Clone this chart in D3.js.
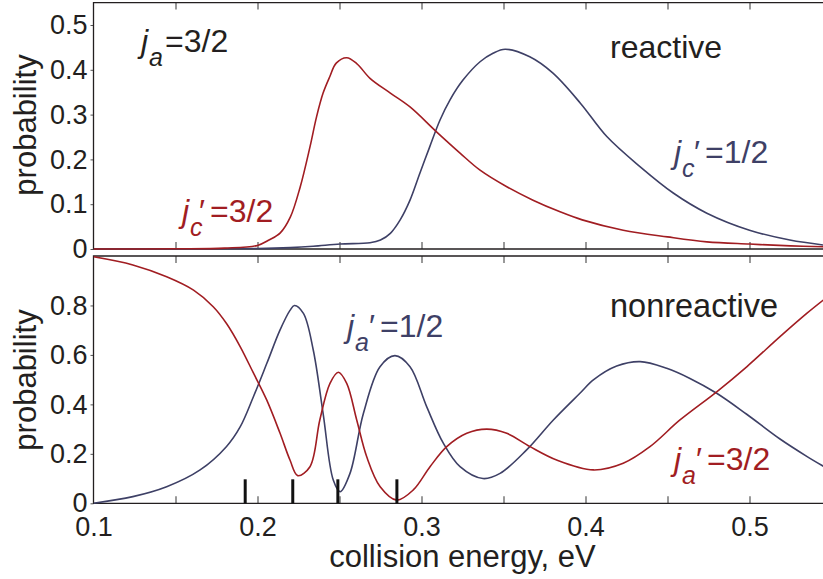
<!DOCTYPE html>
<html><head><meta charset="utf-8">
<script src="https://cdn.jsdelivr.net/npm/d3@7"></script>
<style>
html,body{margin:0;padding:0;background:#fff;}
svg{display:block;font-family:"Liberation Sans",Arial,Helvetica,sans-serif;}
</style></head>
<body>
<svg id="chart" width="823" height="579"></svg>
<script>
// ---------- data ----------
const topRedE = [0.10,0.15,0.18,0.20,0.207,0.2139,0.22,0.226,0.232,0.236,0.240,0.244,0.248,0.2544,0.2605,0.2686,0.281,0.293,0.309,0.3235,0.3357,0.352,0.368,0.3845,0.398,0.423,0.45,0.474,0.50,0.525,0.545];
const topRedV = [0,0.0005,0.002,0.008,0.02,0.036,0.071,0.138,0.228,0.295,0.348,0.384,0.415,0.427,0.414,0.381,0.348,0.317,0.262,0.214,0.176,0.139,0.109,0.083,0.065,0.042,0.027,0.016,0.011,0.007,0.005];

const topBlueE = [0.10,0.20,0.22,0.234,0.2504,0.2686,0.275,0.281,0.287,0.293,0.299,0.305,0.3113,0.3174,0.3253,0.3357,0.3436,0.351,0.366,0.380,0.397,0.413,0.4332,0.4535,0.474,0.50,0.5246,0.545];
const topBlueV = [0,0.001,0.003,0.006,0.011,0.014,0.02,0.035,0.065,0.109,0.169,0.228,0.288,0.333,0.377,0.418,0.437,0.446,0.429,0.393,0.325,0.251,0.184,0.125,0.08,0.042,0.02,0.009];

const botRedE = [0.10,0.124,0.1446,0.161,0.173,0.181,0.1895,0.1975,0.2056,0.2137,0.2198,0.2245,0.232,0.238,0.2442,0.2493,0.2544,0.2605,0.2666,0.2748,0.2849,0.295,0.3052,0.3154,0.3276,0.3398,0.352,0.3662,0.3824,0.4048,0.423,0.4393,0.4576,0.48,0.4983,0.5186,0.5349,0.545];
const botRedV = [0.997,0.964,0.916,0.862,0.795,0.728,0.633,0.527,0.418,0.284,0.175,0.112,0.148,0.337,0.485,0.53,0.485,0.337,0.188,0.067,0.013,0.054,0.148,0.229,0.283,0.30,0.283,0.229,0.175,0.135,0.162,0.229,0.337,0.451,0.552,0.674,0.768,0.822];

const botBlueE = [0.10,0.124,0.1446,0.165,0.181,0.1895,0.1975,0.2057,0.2137,0.2198,0.2225,0.228,0.234,0.240,0.2462,0.2504,0.2564,0.2646,0.2747,0.2838,0.293,0.3032,0.3133,0.3235,0.3375,0.3479,0.3641,0.3804,0.3966,0.405,0.419,0.4333,0.4495,0.4637,0.48,0.4983,0.5186,0.5349,0.545];
const botBlueV = [0,0.027,0.067,0.135,0.229,0.31,0.431,0.566,0.70,0.78,0.80,0.768,0.62,0.364,0.094,0.047,0.121,0.364,0.552,0.597,0.552,0.39,0.243,0.148,0.10,0.121,0.216,0.337,0.445,0.50,0.555,0.573,0.546,0.505,0.445,0.36,0.26,0.19,0.15];

const markerE = [0.1925,0.2215,0.249,0.285];
const markerH = 0.097;

const xTickMinor = [0.15,0.2,0.25,0.3,0.35,0.4,0.45,0.5];
const xTickLabels = [0.1,0.2,0.3,0.4,0.5];
const yTopTicks = [0,0.1,0.2,0.3,0.4,0.5];
const yBotTicks = [0,0.2,0.4,0.6,0.8];

const RED = "#a11d22", BLUE = "#3e4066", INK = "#231f20";

// ---------- layout ----------
const svg = d3.select("#chart");
const x = d3.scaleLinear().domain([0.1,0.545]).range([93.5,823.3]);
const yTop = d3.scaleLinear().domain([0,0.55]).range([249,2.6]);
const yBot = d3.scaleLinear().domain([0,1]).range([503.3,256]);

const defs = svg.append("defs");
function clip(id, y0, y1){
  defs.append("clipPath").attr("id",id).append("rect")
    .attr("x",x.range()[0]).attr("y",y0).attr("width",x.range()[1]-x.range()[0]+2).attr("height",y1-y0);
}
clip("cTop", yTop.range()[1], yTop.range()[0]+1);
clip("cBot", yBot.range()[1], yBot.range()[0]+1);

function panel(y, yTicks, fmt){
  const g = svg.append("g");
  g.append("g").attr("transform",`translate(0,${y.range()[1]})`)
    .call(d3.axisTop(x).tickValues(xTickMinor).tickSize(-7).tickFormat(""))
    .call(s=>s.select(".domain").remove())
    .call(s=>s.selectAll("line").attr("stroke","#555").attr("stroke-width",1.2));
  g.append("g").attr("transform",`translate(0,${y.range()[0]})`)
    .call(d3.axisBottom(x).tickValues(xTickMinor).tickSize(-7).tickFormat(""))
    .call(s=>s.select(".domain").remove())
    .call(s=>s.selectAll("line").attr("stroke","#555").attr("stroke-width",1.2));
  g.append("g").attr("transform",`translate(${x.range()[0]},0)`)
    .call(d3.axisLeft(y).tickValues(yTicks).tickSize(3).tickPadding(3).tickFormat(fmt))
    .call(s=>s.select(".domain").remove())
    .call(s=>s.selectAll("line").attr("stroke","#555"))
    .call(s=>s.selectAll("text").attr("fill",INK).attr("font-size",27)
      .attr("font-family","Liberation Sans, Arial, sans-serif"));
  g.append("path")
    .attr("d",`M${x.range()[1]+1},${y.range()[1]}H${x.range()[0]}V${y.range()[0]}H${x.range()[1]+1}`)
    .attr("fill","none").attr("stroke",INK).attr("stroke-width",1.3);
  return g;
}
const fmt = d => d===0 ? "0" : d3.format(".1f")(d);
panel(yTop, yTopTicks, fmt);
panel(yBot, yBotTicks, fmt);

// x tick labels
svg.append("g").attr("transform",`translate(0,${yBot.range()[0]})`)
  .call(d3.axisBottom(x).tickValues(xTickLabels).tickSize(0).tickPadding(14).tickFormat(d3.format(".1f")))
  .call(s=>s.select(".domain").remove())
  .call(s=>s.selectAll("text").attr("fill",INK).attr("font-size",27)
    .attr("font-family","Liberation Sans, Arial, sans-serif"));

// curves
function curve(E, V, y, color, clipId){
  const pts = E.map((e,i)=>[e,V[i]]);
  svg.append("path").datum(pts)
    .attr("clip-path",`url(#${clipId})`)
    .attr("fill","none").attr("stroke",color).attr("stroke-width",1.6)
    .attr("d", d3.line().x(d=>x(d[0])).y(d=>y(d[1])).curve(d3.curveCatmullRom.alpha(0.5)));
}
curve(topBlueE, topBlueV, yTop, BLUE, "cTop");
curve(topRedE, topRedV, yTop, RED, "cTop");
curve(botBlueE, botBlueV, yBot, BLUE, "cBot");
curve(botRedE, botRedV, yBot, RED, "cBot");

// threshold markers
svg.append("g").selectAll("line").data(markerE).join("line")
  .attr("x1",d=>x(d)).attr("x2",d=>x(d))
  .attr("y1",yBot(0)).attr("y2",yBot(markerH))
  .attr("stroke","#111").attr("stroke-width",3);

// axis titles
function ytitle(cy){
  svg.append("text").attr("transform",`translate(35.5,${cy}) rotate(-90)`)
    .attr("text-anchor","middle").attr("font-size",31).attr("fill",INK)
    .text("probability");
}
ytitle(125); ytitle(380);
svg.append("text").attr("x",462.5).attr("y",566.5).attr("text-anchor","middle")
  .attr("font-size",31).attr("fill",INK).text("collision energy, eV");

// annotations: j (italic) + italic subscript + optional prime + rest
function label(xp, yp, sub, prime, rest, color, xEq){
  const t = svg.append("text").attr("x",xp).attr("y",yp).attr("font-size",32).attr("fill",color);
  t.append("tspan").attr("font-style","italic").text("j");
  t.append("tspan").attr("font-style","italic").attr("font-size",25).attr("dy",14).attr("dx",1).text(sub);
  if(prime){
    t.append("tspan").attr("x",xEq-14).attr("dy",-14).text("\u2032");
    t.append("tspan").attr("x",xEq-3).text(rest);
  } else {
    t.append("tspan").attr("x",xEq-2).attr("dy",-14).text(rest);
  }
}
label(141, 52, "a", false, "=3/2", INK, 167);
label(182, 222, "c", true, "=3/2", RED, 213);
label(674, 163, "c", true, "=1/2", BLUE, 708);
label(347, 337, "a", true, "=1/2", BLUE, 383);
label(674, 470, "a", true, "=3/2", RED, 710);

svg.append("text").attr("x",610).attr("y",58).attr("font-size",32).attr("fill",INK).text("reactive");
svg.append("text").attr("x",610).attr("y",317).attr("font-size",32.5).attr("fill",INK).text("nonreactive");
</script>
</body></html>
